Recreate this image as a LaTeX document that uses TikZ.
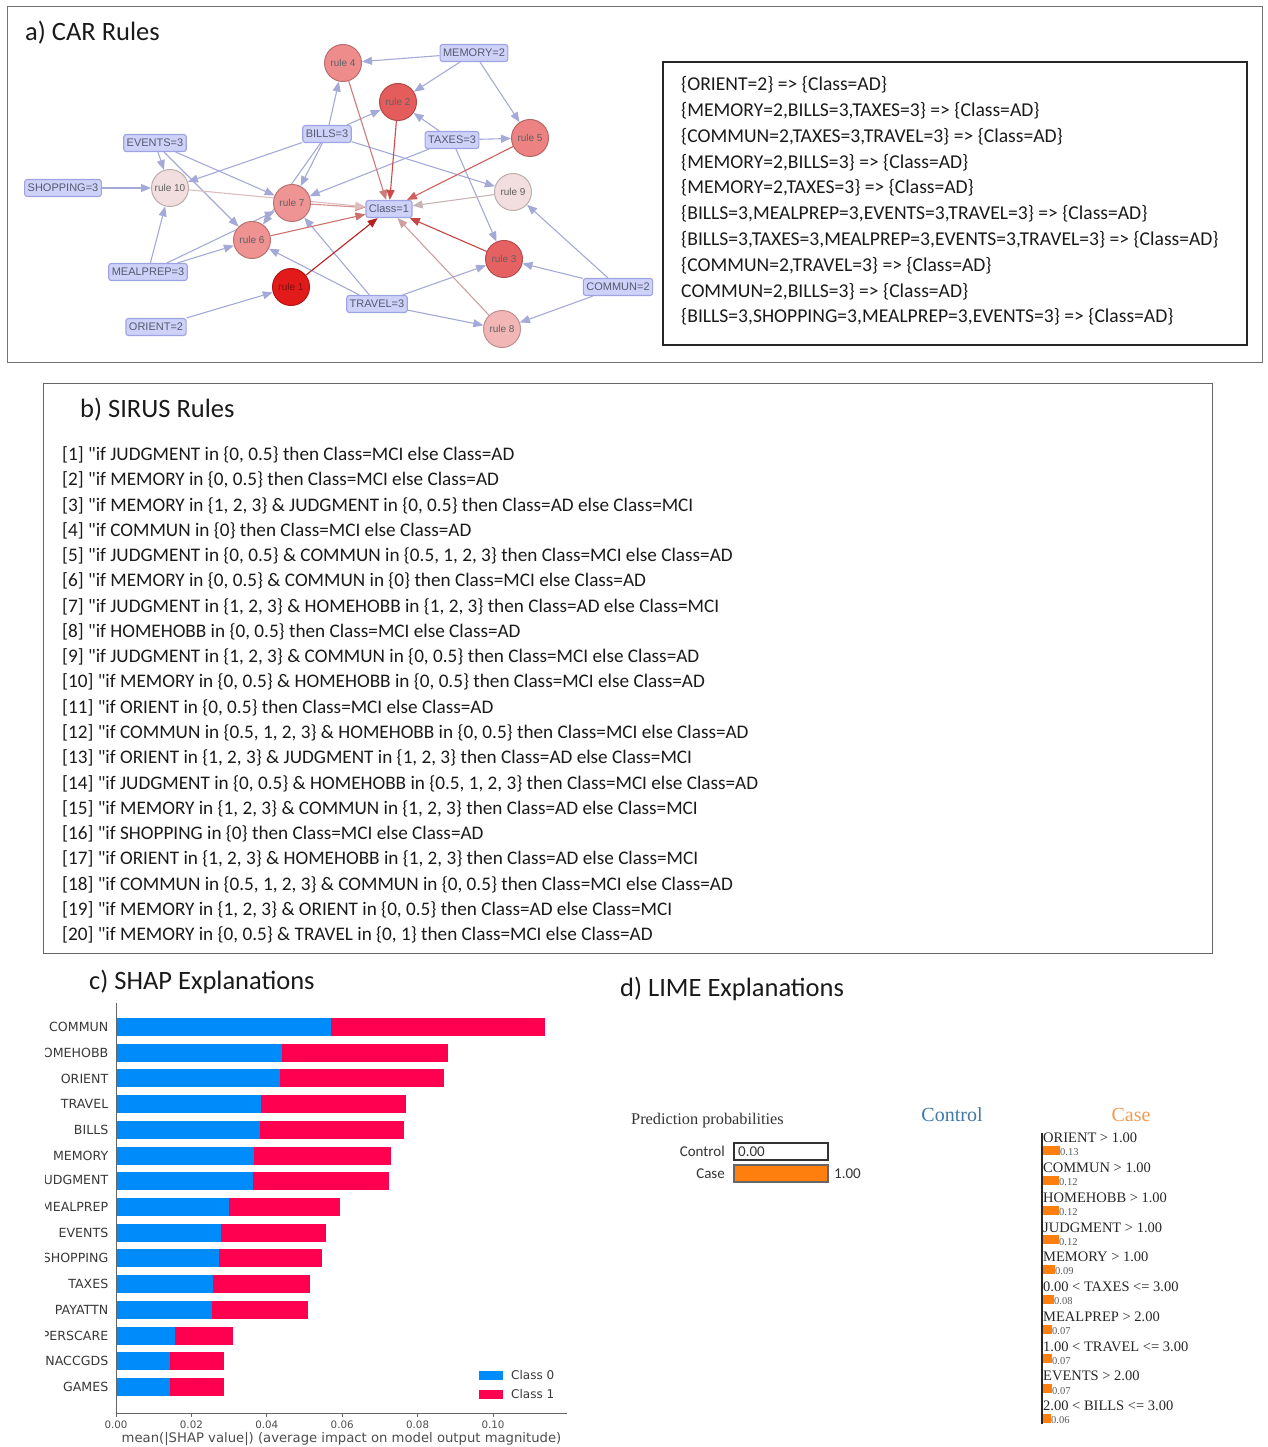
\documentclass[tikz,border=0pt]{standalone}
\usepackage{fontspec}
\setmainfont{Carlito}
\setsansfont{Liberation Sans}
\newfontfamily\dejavu{DejaVu Sans}
\newfontfamily\tnr{Liberation Serif}
\usetikzlibrary{arrows.meta}
\pgfdeclarelayer{background}
\pgfsetlayers{background,main}
\definecolor{lbfill}{HTML}{CED2F8}
\definecolor{lbdraw}{HTML}{9DA3E3}
\definecolor{lbtext}{HTML}{555A70}
\definecolor{edgeb}{HTML}{A4AAD8}
\definecolor{shapblue}{HTML}{008BFB}
\definecolor{shapred}{HTML}{FF0051}
\definecolor{limeor}{HTML}{FF7F0E}
\definecolor{ctrlblue}{HTML}{3E78AA}
\definecolor{caseor}{HTML}{F29A50}
\definecolor{txt}{HTML}{1A1A1A}
\definecolor{ca}{HTML}{E31A1A}
\definecolor{cb}{HTML}{E45C5C}
\definecolor{cc}{HTML}{E66262}
\definecolor{cd}{HTML}{EE8C8C}
\definecolor{ce}{HTML}{EC8282}
\definecolor{cf}{HTML}{EE9292}
\definecolor{cg}{HTML}{EE9494}
\definecolor{ch}{HTML}{F2B6B6}
\definecolor{ci}{HTML}{F2DEDE}
\definecolor{cj}{HTML}{F2DEDE}
\definecolor{ea}{HTML}{B82020}
\definecolor{eb}{HTML}{D04848}
\definecolor{ec}{HTML}{C84444}
\definecolor{ed}{HTML}{CC7A7A}
\definecolor{ee}{HTML}{D06060}
\definecolor{ef}{HTML}{CC7070}
\definecolor{eg}{HTML}{D89090}
\definecolor{eh}{HTML}{CCA0A0}
\definecolor{ei}{HTML}{C8B4B4}
\definecolor{ej}{HTML}{DDBDBD}
\newcommand{\qq}{\textquotedbl}
\tikzset{
  lab/.style={rectangle, rounded corners=2.5pt, draw=lbdraw, fill=lbfill, line width=1.1pt,
    font=\sffamily\fontsize{11}{12}\selectfont, text=lbtext, inner xsep=3pt, inner ysep=0pt,
    minimum height=17pt},
  rl/.style={circle, minimum size=37pt, inner sep=0pt, fill=#1, draw=#1!78!black, line width=1pt,
    font=\sffamily\fontsize{10}{12}\selectfont, text=black!62},
  be/.style={draw=edgeb, line width=1.1pt, -{Triangle[length=10pt,width=8pt]}},
  re/.style={draw=#1, line width=1.1pt, -{Triangle[length=10pt,width=8pt]}},
  ptitle/.style={anchor=west, font=\fontsize{26.5}{30}\selectfont, text=txt, inner sep=0pt},
  carline/.style={anchor=west, font=\fontsize{19.6}{22}\selectfont, text=txt, inner sep=0pt},
  sline/.style={anchor=west, font=\fontsize{19.2}{22}\selectfont, text=txt, inner sep=0pt},
  shaplab/.style={anchor=east, font=\dejavu\fontsize{12.6}{14}\selectfont, text=black!78, inner sep=0pt},
  tick/.style={font=\dejavu\fontsize{10.3}{12}\selectfont, text=black!70, inner sep=0pt},
  limelab/.style={anchor=west, font=\tnr\fontsize{14.5}{16}\selectfont, text=black!85, inner sep=0pt},
  limeval/.style={anchor=west, font=\tnr\fontsize{10.5}{12}\selectfont, text=black!65, inner sep=0pt}
}
\begin{document}
\begin{tikzpicture}[x=1pt,y=-1pt]
\useasboundingbox (0,0) rectangle (1267,1447);

% ---------------- panel a ----------------
\draw[draw=black!55, line width=1pt] (7,7) rectangle (1262,362);
\node[ptitle] (ta) at (25,33) {a) CAR Rules};

\node[lab] (mem) at (474,53) {MEMORY=2};
\node[lab] (bil) at (327,134) {BILLS=3};
\node[lab] (tax) at (452,140) {TAXES=3};
\node[lab] (evt) at (155,143) {EVENTS=3};
\node[lab] (shp) at (63,188) {SHOPPING=3};
\node[lab] (cls) at (389,209) {Class=1};
\node[lab] (mpr) at (148,272) {MEALPREP=3};
\node[lab] (com) at (618,287) {COMMUN=2};
\node[lab] (trv) at (377,304) {TRAVEL=3};
\node[lab] (ori) at (156,327) {ORIENT=2};

\node[rl=ca, text=black!45!ca] (r1) at (291,287) {rule 1};
\node[rl=cb] (r2) at (398,102) {rule 2};
\node[rl=cc] (r3) at (504,259) {rule 3};
\node[rl=cd] (r4) at (343,63) {rule 4};
\node[rl=ce] (r5) at (530,138) {rule 5};
\node[rl=cf] (r6) at (252,240) {rule 6};
\node[rl=cg] (r7) at (292,203) {rule 7};
\node[rl=ch] (r8) at (502,329) {rule 8};
\node[rl=ci] (r9) at (513,192) {rule 9};
\node[rl=cj] (r10) at (170,188) {rule 10};

\begin{pgfonlayer}{background}
\foreach \a/\b in {mem/r4, mem/r2, mem/r5, bil/r4, bil/r2, bil/r10, bil/r7, bil/r6, bil/r9,
  tax/r2, tax/r5, tax/r7, tax/r3, evt/r10, evt/r7, evt/r6, shp/r10, mpr/r10, mpr/r6, mpr/r7,
  ori/r1, trv/r7, trv/r6, trv/r3, trv/r8, com/r3, com/r9, com/r8}
  \draw[be] (\a) -- (\b);
\foreach \r/\c in {r1/ea, r2/eb, r3/ec, r4/ed, r5/ee, r6/ef, r7/eg, r8/eh, r9/ei, r10/ej}
  \draw[re=\c] (\r) -- (cls);
\end{pgfonlayer}

\draw[line width=2pt, black!85] (663,62) rectangle (1247,345);
\foreach \t [count=\i] in {
  {\{ORIENT=2\} => \{Class=AD\}},
  {\{MEMORY=2,BILLS=3,TAXES=3\} => \{Class=AD\}},
  {\{COMMUN=2,TAXES=3,TRAVEL=3\} => \{Class=AD\}},
  {\{MEMORY=2,BILLS=3\} => \{Class=AD\}},
  {\{MEMORY=2,TAXES=3\} => \{Class=AD\}},
  {\{BILLS=3,MEALPREP=3,EVENTS=3,TRAVEL=3\} => \{Class=AD\}},
  {\{BILLS=3,TAXES=3,MEALPREP=3,EVENTS=3,TRAVEL=3\} => \{Class=AD\}},
  {\{COMMUN=2,TRAVEL=3\} => \{Class=AD\}},
  {COMMUN=2,BILLS=3\} => \{Class=AD\}},
  {\{BILLS=3,SHOPPING=3,MEALPREP=3,EVENTS=3\} => \{Class=AD\}}}
  \node[carline] (car\i) at (681,{85+25.8*(\i-1)}) {\t};

% ---------------- panel b ----------------
\draw[draw=black!60, line width=1pt] (43,383) rectangle (1212,953);
\node[ptitle] (tb) at (80,410) {b) SIRUS Rules};
\foreach \t [count=\i] in {
  {[1] \qq if JUDGMENT in \{0, 0.5\} then Class=MCI else Class=AD},
  {[2] \qq if MEMORY in \{0, 0.5\} then Class=MCI else Class=AD},
  {[3] \qq if MEMORY in \{1, 2, 3\} \& JUDGMENT in \{0, 0.5\} then Class=AD else Class=MCI},
  {[4] \qq if COMMUN in \{0\} then Class=MCI else Class=AD},
  {[5] \qq if JUDGMENT in \{0, 0.5\} \& COMMUN in \{0.5, 1, 2, 3\} then Class=MCI else Class=AD},
  {[6] \qq if MEMORY in \{0, 0.5\} \& COMMUN in \{0\} then Class=MCI else Class=AD},
  {[7] \qq if JUDGMENT in \{1, 2, 3\} \& HOMEHOBB in \{1, 2, 3\} then Class=AD else Class=MCI},
  {[8] \qq if HOMEHOBB in \{0, 0.5\} then Class=MCI else Class=AD},
  {[9] \qq if JUDGMENT in \{1, 2, 3\} \& COMMUN in \{0, 0.5\} then Class=MCI else Class=AD},
  {[10] \qq if MEMORY in \{0, 0.5\} \& HOMEHOBB in \{0, 0.5\} then Class=MCI else Class=AD},
  {[11] \qq if ORIENT in \{0, 0.5\} then Class=MCI else Class=AD},
  {[12] \qq if COMMUN in \{0.5, 1, 2, 3\} \& HOMEHOBB in \{0, 0.5\} then Class=MCI else Class=AD},
  {[13] \qq if ORIENT in \{1, 2, 3\} \& JUDGMENT in \{1, 2, 3\} then Class=AD else Class=MCI},
  {[14] \qq if JUDGMENT in \{0, 0.5\} \& HOMEHOBB in \{0.5, 1, 2, 3\} then Class=MCI else Class=AD},
  {[15] \qq if MEMORY in \{1, 2, 3\} \& COMMUN in \{1, 2, 3\} then Class=AD else Class=MCI},
  {[16] \qq if SHOPPING in \{0\} then Class=MCI else Class=AD},
  {[17] \qq if ORIENT in \{1, 2, 3\} \& HOMEHOBB in \{1, 2, 3\} then Class=AD else Class=MCI},
  {[18] \qq if COMMUN in \{0.5, 1, 2, 3\} \& COMMUN in \{0, 0.5\} then Class=MCI else Class=AD},
  {[19] \qq if MEMORY in \{1, 2, 3\} \& ORIENT in \{0, 0.5\} then Class=AD else Class=MCI},
  {[20] \qq if MEMORY in \{0, 0.5\} \& TRAVEL in \{0, 1\} then Class=MCI else Class=AD}}
  \node[sline] (sr\i) at (62,{455+25.26*(\i-1)}) {\t};

% ---------------- panel c ----------------
\node[ptitle] (tc) at (89,982) {c) SHAP Explanations};
\foreach \nm/\b/\r [count=\k from 0] in {COMMUN/331/545, HOMEHOBB/282/448, ORIENT/280/444,
  TRAVEL/261/406, BILLS/260/404, MEMORY/254/391, JUDGMENT/253/389, MEALPREP/229/340,
  EVENTS/221/326, SHOPPING/219/322, TAXES/213/310, PAYATTN/212/308, PERSCARE/175/233,
  NACCGDS/170/224, GAMES/170/224}{
  \pgfmathsetmacro\yy{1027+25.71*\k}
  \fill[shapblue] (116,\yy-9) rectangle (\b,\yy+9);
  \fill[shapred] (\b,\yy-9) rectangle (\r,\yy+9);
  \begin{scope}
    \clip (45.5,\yy-12) rectangle (115,\yy+12);
    \node[shaplab] (sl\k) at (108.5,\yy) {\nm};
  \end{scope}
}
\draw[black!60, line width=0.9pt] (116,1003) -- (116,1413) -- (567,1413);
\foreach \v/\lab [count=\j] in {116/0.00, 191.4/0.02, 266.8/0.04, 342.2/0.06, 417.6/0.08, 493/0.10}{
  \draw[black!60, line width=0.9pt] (\v,1413) -- (\v,1417);
  \node[tick] (tk\j) at (\v,1425) {\lab};
}
\node[tick, font=\dejavu\fontsize{13.2}{15}\selectfont] (xl) at (341.5,1439)
  {mean(|SHAP value|) (average impact on model output magnitude)};
\fill[shapblue] (479,1371) rectangle (503,1380);
\fill[shapred] (479,1390) rectangle (503,1399);
\node[shaplab, anchor=west, font=\dejavu\fontsize{12}{14}\selectfont] (lg0) at (511,1375.5) {Class 0};
\node[shaplab, anchor=west, font=\dejavu\fontsize{12}{14}\selectfont] (lg1) at (511,1394.5) {Class 1};

% ---------------- panel d ----------------
\node[ptitle] (td) at (620,989) {d) LIME Explanations};
\node[anchor=west, font=\tnr\fontsize{16.3}{18}\selectfont, text=black!80, inner sep=0pt] (pp) at (631,1121) {Prediction probabilities};
\node[anchor=east, font=\fontsize{15}{17}\selectfont, text=black!80, inner sep=0pt] (pc) at (725,1151) {Control};
\node[anchor=east, font=\fontsize{15}{17}\selectfont, text=black!80, inner sep=0pt] (pk) at (725,1174) {Case};
\draw[black!80, line width=1.2pt] (734,1143) rectangle (828,1160);
\node[anchor=west, font=\fontsize{15}{17}\selectfont, text=black!80, inner sep=0pt] (pv0) at (738,1151.5) {0.00};
\draw[fill=limeor, draw=black!60, line width=1.2pt] (734,1165) rectangle (828,1182);
\node[anchor=west, font=\fontsize{15}{17}\selectfont, text=black!80, inner sep=0pt] (pv1) at (834,1174) {1.00};
\node[font=\tnr\fontsize{20}{22}\selectfont, text=ctrlblue, inner sep=0pt] (hc) at (952,1115) {Control};
\node[font=\tnr\fontsize{20}{22}\selectfont, text=caseor, inner sep=0pt] (hk) at (1131,1115) {Case};
\draw[black!85, line width=2pt] (1042,1133) -- (1042,1424);
\foreach \lbl/\v/\w [count=\i from 0] in {
  {ORIENT > 1.00}/0.13/17, {COMMUN > 1.00}/0.12/16, {HOMEHOBB > 1.00}/0.12/16,
  {JUDGMENT > 1.00}/0.12/16, {MEMORY > 1.00}/0.09/12, {0.00 < TAXES <= 3.00}/0.08/11,
  {MEALPREP > 2.00}/0.07/9, {1.00 < TRAVEL <= 3.00}/0.07/9, {EVENTS > 2.00}/0.07/9,
  {2.00 < BILLS <= 3.00}/0.06/8}{
  \pgfmathsetmacro\yy{1138+29.76*\i}
  \node[limelab] (ll\i) at (1043,\yy) {\lbl};
  \fill[limeor] (1043,\yy+8) rectangle (1043+\w,\yy+17);
  \node[limeval] (lv\i) at (1043+\w,\yy+14.5) {\v};
}
\end{tikzpicture}
\end{document}
